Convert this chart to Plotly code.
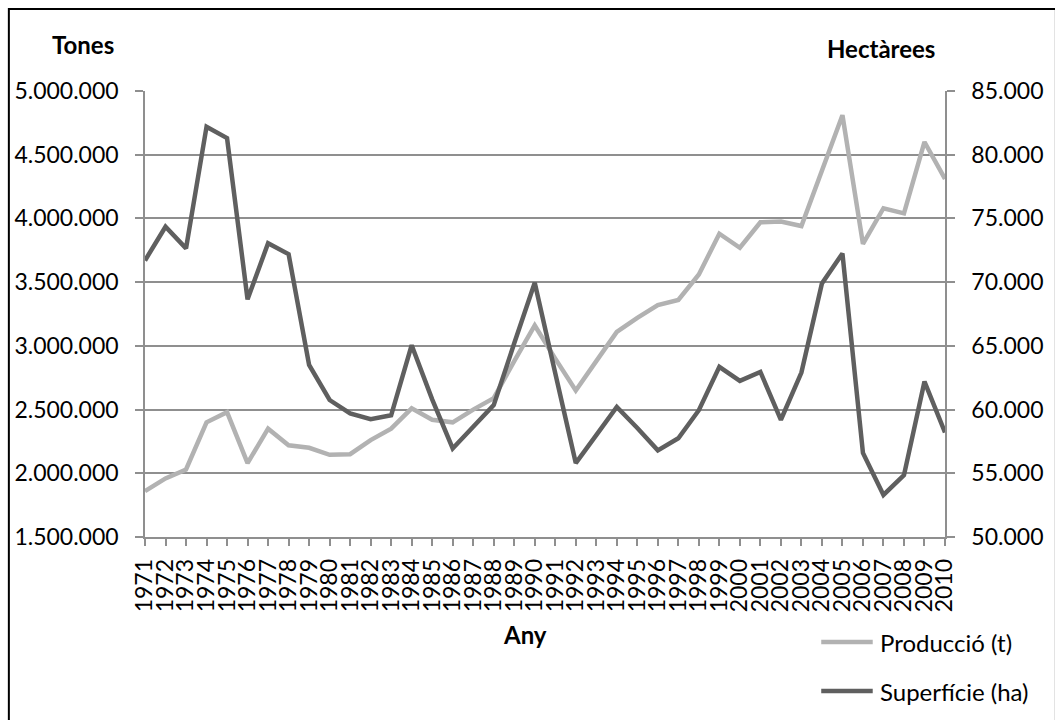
import plotly.graph_objects as go

# --- data -----------------------------------------------------------------
anys = [str(a) for a in range(1971, 2011)]

produccio_t = [
    1860000, 1960000, 2030000, 2400000, 2480000, 2080000, 2350000, 2220000,
    2200000, 2145000, 2150000, 2260000, 2350000, 2510000, 2420000, 2400000,
    2500000, 2590000, 2880000, 3160000, 2900000, 2650000, 2880000, 3110000,
    3220000, 3320000, 3360000, 3560000, 3880000, 3770000, 3970000, 3975000,
    3940000, 4380000, 4810000, 3800000, 4080000, 4040000, 4600000, 4310000,
]

superficie_ha = [
    71700, 74350, 72650, 82200, 81300, 68650, 73050, 72200,
    63500, 60750, 59700, 59250, 59550, 65050, 60800, 56950,
    58650, 60350, 65200, 69950, 62850, 55800, 58000, 60200,
    58550, 56800, 57750, 59950, 63350, 62250, 62950, 59200,
    62900, 69900, 72250, 56600, 53300, 54850, 62200, 58200,
]

y_ticks_t = list(range(1500000, 5000001, 500000))
y_ticks_ha = list(range(50000, 85001, 5000))

# --- page geometry --------------------------------------------------------
W, H = 1055, 720
L, R, T, B = 145, 102, 91, 183
PW, PH = W - L - R, H - T - B


def px(x):
    return (x - L) / PW


def py(y):
    return (H - B - y) / PH


FONT = "Lato, 'Liberation Sans', Arial, sans-serif"
GRID = "#8f8f8f"
LIGHT = "#b2b2b2"
DARK = "#5f5f5f"

fig = go.Figure()

fig.add_trace(go.Scatter(
    x=anys, y=produccio_t, name="Producció (t)", mode="lines",
    line=dict(color=LIGHT, width=4.5), yaxis="y", showlegend=False,
))
fig.add_trace(go.Scatter(
    x=anys, y=superficie_ha, name="Superfície (ha)", mode="lines",
    line=dict(color=DARK, width=4.5), yaxis="y2", showlegend=False,
))

fig.update_layout(
    width=W, height=H,
    margin=dict(l=L, r=R, t=T, b=B, pad=0),
    paper_bgcolor="white", plot_bgcolor="white",
    separators=",.",
    font=dict(family=FONT, size=22, color="#000000"),
    xaxis=dict(
        type="category", range=[0, len(anys) - 1],
        tickmode="array", tickvals=anys, ticktext=anys,
        tickangle=-90, tickfont=dict(size=23),
        ticks="outside", ticklen=7, tickcolor=GRID, tickwidth=1.5,
        showline=True, linecolor=GRID, linewidth=1.5,
        showgrid=False, zeroline=False, ticklabelstandoff=4,
    ),
    yaxis=dict(
        range=[1500000, 5000000], tickvals=y_ticks_t, tickformat=",d",
        tickfont=dict(size=23),
        ticks="outside", ticklen=8, tickcolor=GRID, tickwidth=1.5,
        showline=True, linecolor=GRID, linewidth=1.5,
        showgrid=True, gridcolor=GRID, gridwidth=1.5, zeroline=False,
        ticklabelstandoff=12,
    ),
    yaxis2=dict(
        range=[50000, 85000], tickvals=y_ticks_ha, tickformat=",d",
        overlaying="y", side="right", tickfont=dict(size=23),
        ticks="outside", ticklen=8, tickcolor=GRID, tickwidth=1.5,
        showline=True, linecolor=GRID, linewidth=1.5,
        showgrid=False, zeroline=False, ticklabelstandoff=12,
    ),
)

# outer frame of the chart
fig.add_shape(type="rect", xref="paper", yref="paper",
              x0=px(7.5), y0=py(730), x1=px(1065), y1=py(9),
              line=dict(color="black", width=2), fillcolor="rgba(0,0,0,0)",
              layer="below")

# axis titles
titles = [("Tones", 82, 44), ("Hectàrees", 888, 48), ("Any", 529, 634)]
for text, x, y in titles:
    fig.add_annotation(text=f"<b>{text}</b>", xref="paper", yref="paper",
                       x=px(x), y=py(y), showarrow=False,
                       xanchor="center", yanchor="middle",
                       font=dict(family=FONT, size=24, color="black"))

# legend
legend_items = [("Producció (t)", LIGHT, 642), ("Superfície (ha)", DARK, 691)]
for label, color, y in legend_items:
    fig.add_shape(type="line", xref="paper", yref="paper",
                  x0=px(828), x1=px(880), y0=py(y), y1=py(y),
                  line=dict(color=color, width=4.5))
    fig.add_annotation(text=label, xref="paper", yref="paper",
                       x=px(885), y=py(y), showarrow=False,
                       xanchor="left", yanchor="middle",
                       font=dict(family=FONT, size=24, color="black"))

fig.write_html("out.html")
